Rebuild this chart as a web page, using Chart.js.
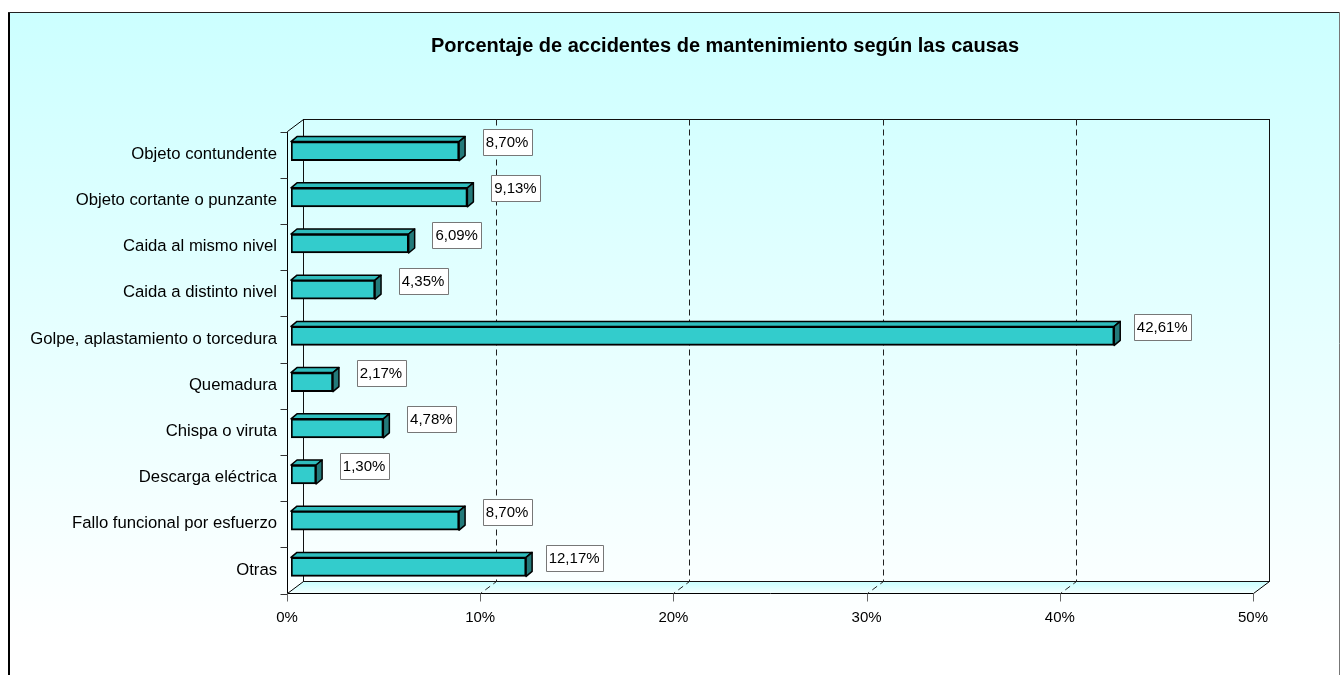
<!DOCTYPE html>
<html>
<head>
<meta charset="utf-8">
<script src="https://cdn.jsdelivr.net/npm/chart.js@4/dist/chart.umd.min.js"></script>
<style>
  body { margin: 0; background: #fff; }
  #wrap { width: 1340px; height: 675px; }
</style>
</head>
<body>
<div id="wrap"><canvas id="myChart" width="1340" height="675"></canvas></div>
<script>
// data
const categories = [
    'Objeto contundente',
    'Objeto cortante o punzante',
    'Caida al mismo nivel',
    'Caida a distinto nivel',
    'Golpe, aplastamiento o torcedura',
    'Quemadura',
    'Chispa o viruta',
    'Descarga eléctrica',
    'Fallo funcional por esfuerzo',
    'Otras'
];
const percents = [8.70, 9.13, 6.09, 4.35, 42.61, 2.17, 4.78, 1.30, 8.70, 12.17];
const xTickValues = [0, 10, 20, 30, 40, 50];
const chartTitle = 'Porcentaje de accidentes de mantenimiento según las causas';

const FONT = 'Arial, "Liberation Sans", sans-serif';

// offsets of the fake 3d box, relative to the plane the bars sit in
const FRONT = { dx: -4, dy: 3 };
const BACK = { dx: 12, dy: -9 };
const BAR_DEPTH = { dx: 6, dy: 5 };

function fmt(v) {
    return v.toFixed(2).replace('.', ',') + '%';
}

const scene3d = {
    id: 'scene3d',
    beforeDraw(chart) {
        const ctx = chart.ctx;
        const a = chart.chartArea;
        const xs = chart.scales.x;
        const W = chart.width, H = chart.height;
        const xMax = xTickValues[xTickValues.length - 1];
        ctx.save();

        // chart background
        let g = ctx.createLinearGradient(0, 12, 0, 640);
        g.addColorStop(0, '#ccffff');
        g.addColorStop(1, '#ffffff');
        ctx.fillStyle = g;
        ctx.fillRect(8, 12, W - 8, H - 12);

        // frame
        ctx.strokeStyle = '#000';
        ctx.lineWidth = 2;
        ctx.beginPath();
        ctx.moveTo(9, H);
        ctx.lineTo(9, 12);
        ctx.stroke();
        ctx.lineWidth = 1;
        ctx.strokeStyle = '#222';
        ctx.beginPath();
        ctx.moveTo(8, 12.5);
        ctx.lineTo(W, 12.5);
        ctx.stroke();
        ctx.strokeStyle = '#777';
        ctx.beginPath();
        ctx.moveTo(W - 0.5, 12);
        ctx.lineTo(W - 0.5, H);
        ctx.stroke();

        // title (the picture has it off-centre, so it is drawn here)
        ctx.fillStyle = '#000';
        ctx.font = 'bold 20px ' + FONT;
        ctx.textAlign = 'center';
        ctx.textBaseline = 'middle';
        ctx.fillText(chartTitle, 725, 46);

        const x0 = Math.round(xs.getPixelForValue(0));
        const x1 = Math.round(xs.getPixelForValue(xMax));
        const fl = x0 + FRONT.dx + 0.5, fr = x1 + FRONT.dx + 0.5;
        const ft = Math.round(a.top) + FRONT.dy + 0.5, fb = Math.round(a.bottom) + FRONT.dy + 0.5;
        const bl = x0 + BACK.dx + 0.5, br = x1 + BACK.dx + 0.5;
        const bt = Math.round(a.top) + BACK.dy + 0.5, bb = Math.round(a.bottom) + BACK.dy + 0.5;

        // floor
        g = ctx.createLinearGradient(0, bb, 0, fb);
        g.addColorStop(0, '#c8ffff');
        g.addColorStop(1, '#f4ffff');
        ctx.fillStyle = g;
        ctx.beginPath();
        ctx.moveTo(fl, fb);
        ctx.lineTo(fr, fb);
        ctx.lineTo(br, bb);
        ctx.lineTo(bl, bb);
        ctx.closePath();
        ctx.fill();
        ctx.strokeStyle = '#000';
        ctx.stroke();

        // back wall
        ctx.strokeStyle = '#111';
        ctx.strokeRect(bl, bt, br - bl, bb - bt);

        // dashed grid on the back wall and floor
        ctx.setLineDash([6, 4]);
        ctx.strokeStyle = '#222';
        xTickValues.slice(1, -1).forEach(function(v) {
            const x = Math.round(xs.getPixelForValue(v));
            ctx.beginPath();
            ctx.moveTo(x + BACK.dx + 0.5, bt);
            ctx.lineTo(x + BACK.dx + 0.5, bb);
            ctx.lineTo(x + FRONT.dx + 0.5, fb);
            ctx.stroke();
        });
        ctx.setLineDash([]);

        // side wall edges
        ctx.strokeStyle = '#000';
        ctx.beginPath();
        ctx.moveTo(fl, fb);
        ctx.lineTo(fl, ft);
        ctx.lineTo(bl, bt);
        ctx.stroke();

        // category ticks
        const step = (fb - ft) / categories.length;
        ctx.strokeStyle = '#333';
        for (let i = 0; i <= categories.length; i++) {
            const y = Math.round(ft + i * step) + 0.5;
            ctx.beginPath();
            ctx.moveTo(fl - 7, y);
            ctx.lineTo(fl, y);
            ctx.stroke();
        }
        // value ticks
        ctx.strokeStyle = '#666';
        xTickValues.forEach(function(v) {
            const x = Math.round(xs.getPixelForValue(v)) + FRONT.dx + 0.5;
            ctx.beginPath();
            ctx.moveTo(x, fb);
            ctx.lineTo(x, fb + 8);
            ctx.stroke();
        });
        ctx.restore();
    },
    afterDatasetsDraw(chart) {
        const ctx = chart.ctx;
        const meta = chart.getDatasetMeta(0);
        const d = BAR_DEPTH;
        ctx.save();
        ctx.lineWidth = 1.5;
        ctx.strokeStyle = '#000';
        ctx.lineJoin = 'round';
        meta.data.forEach(function(bar, i) {
            const p = bar.getProps(['x', 'y', 'base', 'height'], true);
            const top = p.y - p.height / 2, bottom = p.y + p.height / 2;
            // top face
            ctx.fillStyle = '#2fbdbd';
            ctx.beginPath();
            ctx.moveTo(p.base, top);
            ctx.lineTo(p.x, top);
            ctx.lineTo(p.x + d.dx, top - d.dy);
            ctx.lineTo(p.base + d.dx, top - d.dy);
            ctx.closePath();
            ctx.fill();
            ctx.stroke();
            // side face
            ctx.fillStyle = '#237a7a';
            ctx.beginPath();
            ctx.moveTo(p.x, top);
            ctx.lineTo(p.x + d.dx, top - d.dy);
            ctx.lineTo(p.x + d.dx, bottom - d.dy);
            ctx.lineTo(p.x, bottom);
            ctx.closePath();
            ctx.fill();
            ctx.stroke();

            // value label in a box
            const txt = fmt(percents[i]);
            ctx.font = '15px ' + FONT;
            const w = ctx.measureText(txt).width + 6;
            const h = 26;
            const cx = p.x + 48, cy = p.y - 9;
            ctx.fillStyle = '#fff';
            ctx.fillRect(Math.round(cx - w / 2), Math.round(cy - h / 2), Math.round(w), h);
            ctx.save();
            ctx.lineWidth = 1;
            ctx.strokeStyle = '#777';
            ctx.strokeRect(Math.round(cx - w / 2) + 0.5, Math.round(cy - h / 2) + 0.5, Math.round(w), h);
            ctx.restore();
            ctx.fillStyle = '#000';
            ctx.textAlign = 'center';
            ctx.textBaseline = 'middle';
            ctx.fillText(txt, cx, cy + 1);
        });
        ctx.restore();
    }
};

const ctx = document.getElementById('myChart');

new Chart(ctx, {
    type: 'bar',
    data: {
        labels: categories,
        datasets: [{
            label: 'Porcentaje',
            data: percents,
            backgroundColor: '#33cccc',
            borderColor: '#000',
            borderWidth: 2,
            borderSkipped: false,
            barThickness: 19
        }]
    },
    options: {
        indexAxis: 'y',
        responsive: false,
        animation: false,
        devicePixelRatio: 1,
        layout: {
            padding: { left: 8, top: 128, right: 83, bottom: 0 }
        },
        plugins: {
            legend: { display: false },
            tooltip: { enabled: false },
            title: { display: false }
        },
        scales: {
            x: {
                min: 0,
                max: 50,
                grid: { display: false, drawTicks: false },
                border: { display: false },
                afterFit: function(scale) { scale.height = 85; },
                ticks: {
                    stepSize: 10,
                    padding: 19,
                    labelOffset: -4,
                    color: '#000',
                    font: { family: FONT, size: 15 },
                    callback: function(v) { return v + '%'; }
                }
            },
            y: {
                grid: { display: false, drawTicks: false },
                border: { display: false },
                afterFit: function(scale) { scale.width = 283; },
                ticks: {
                    padding: 14,
                    labelOffset: 3,
                    autoSkip: false,
                    color: '#000',
                    font: { family: FONT, size: 16.7 }
                }
            }
        }
    },
    plugins: [scene3d]
});
</script>
</body>
</html>
